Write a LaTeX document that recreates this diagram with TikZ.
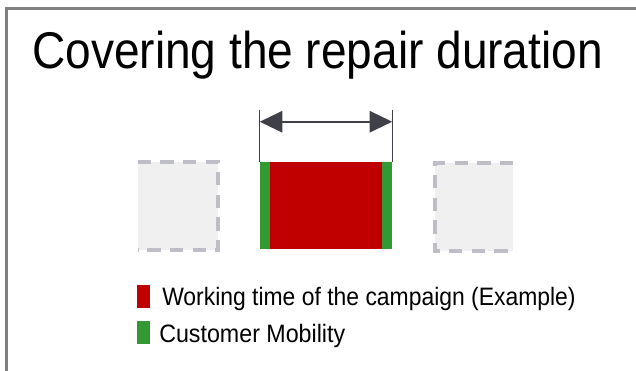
\documentclass[tikz,border=0pt]{standalone}
\usepackage{fontspec}
\setmainfont{Liberation Sans}
\usetikzlibrary{arrows.meta, positioning}
\definecolor{campred}{HTML}{C00000}
\definecolor{mobgreen}{HTML}{339933}
\definecolor{slotgray}{HTML}{F0F0F0}
\definecolor{dashgray}{HTML}{BEBEC6}
\definecolor{arrowgray}{HTML}{404048}
\definecolor{framegray}{HTML}{808080}
\newcommand\fitwidth[2]{\resizebox{#1}{\height}{#2}}
\tikzset{slot/.style = {fill=slotgray, inner sep=0pt,
            minimum height=66pt},
    slotedge/.style = {draw=dashgray, line width=3pt,
            dash pattern=on 10pt off 7pt},
    strip/.style = {fill=mobgreen, inner sep=0pt,
            minimum width=7.5pt, minimum height=65.25pt},
    legendkey/.style = {inner sep=0pt, minimum width=9.75pt,
            minimum height=17.25pt},
    legendtext/.style = {anchor=base west, inner sep=0pt,
            font=\fontsize{18.9}{20}\selectfont},
    dimline/.style = {draw=arrowgray, line width=1.1pt}}

\begin{document}
\begin{tikzpicture}[x=0.75pt, y=-0.75pt]
\useasboundingbox (0,0) rectangle (636,371);
% frame, cut off at right and bottom
\draw[framegray, line width=2.25pt] (6.5,371) -- (6.5,8.5) -- (636,8.5);

\node[anchor=base west, inner sep=0pt] (title) at (32,69)
    {\fitwidth{428pt}{\fontsize{38.75}{40}\selectfont Covering the repair duration}};

% time slots
\node[slot, minimum width=60pt] (before) at (178,206) {};
\node[fill=campred, inner sep=0pt, minimum width=99pt,
      minimum height=65.25pt] (work) at (326,205.5) {};
\node[slot, minimum width=58.5pt] (after) at (474,207) {};
\node[strip, anchor=west] (mobin) at (work.west) {};
\node[strip, anchor=east] (mobout) at (work.east) {};

\draw[slotedge] (before.north west) -- (before.north east)
    -- (before.south east) -- (before.south west);
\draw[slotedge] (after.north east) -- (after.north west)
    -- (after.south west) -- (after.south east);

% duration
\coordinate (dimleft) at ([yshift=39pt]work.north west);
\coordinate (dimright) at ([yshift=39pt]work.north east);
\draw[dimline] (work.north west) -- (dimleft);
\draw[dimline] (work.north east) -- (dimright);
\draw[arrowgray, line width=1.5pt,
      {Triangle[length=17pt, width=16pt]}-{Triangle[length=17pt, width=16pt]}]
    ([yshift=-9pt]dimleft) -- ([yshift=-9pt]dimright);

% legend
\node[legendkey, fill=campred] (keyred) at (143.5,296.5) {};
\node[legendkey, fill=mobgreen] (keygreen) at (143.5,332) {};
\node[legendtext] (txtred) at (162,305)
    {\fitwidth{310pt}{Working time of the campaign (Example)}};
\node[legendtext] (txtgreen) at (159,342)
    {\fitwidth{139.5pt}{Customer Mobility}};
\end{tikzpicture}
\end{document}
